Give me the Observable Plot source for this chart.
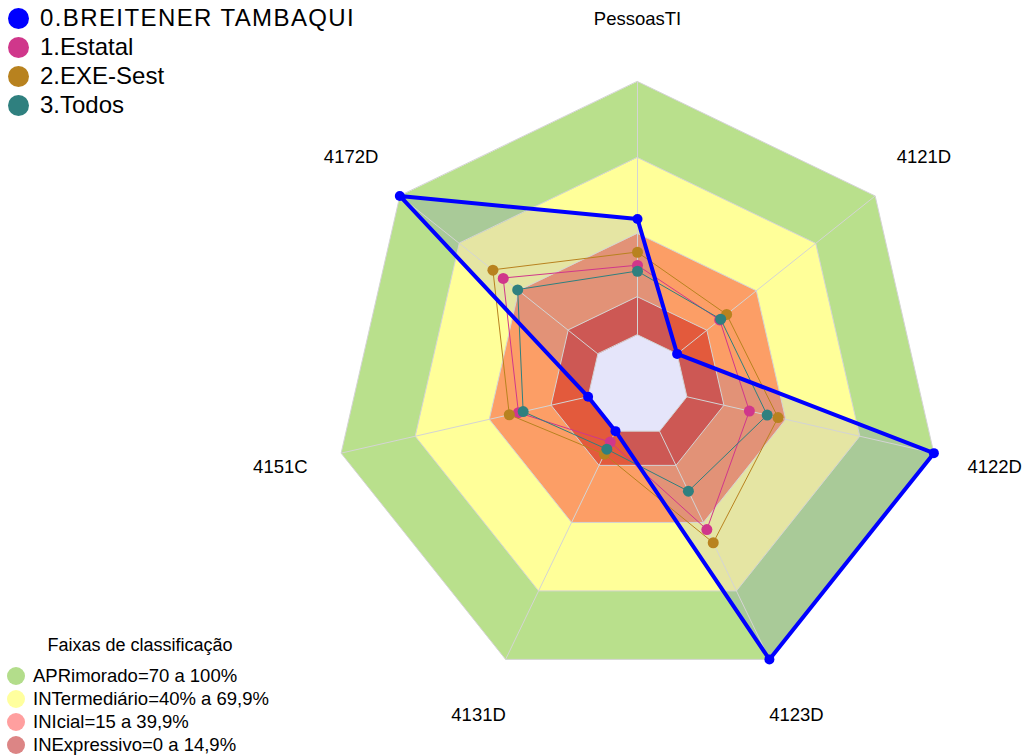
<!DOCTYPE html>
<html><head><meta charset="utf-8">
<script src="https://cdn.jsdelivr.net/npm/d3@7"></script>
<script src="https://cdn.jsdelivr.net/npm/@observablehq/plot@0.6"></script>
<style>
body{margin:0;background:#fff;font-family:"Liberation Sans",Arial,sans-serif;}
#wrap{position:relative;width:1023px;height:756px;overflow:hidden;}
#wrap svg{position:absolute;left:0;top:0;}
.row{position:absolute;display:flex;align-items:center;white-space:nowrap;color:#000;}
.dot{display:inline-block;border-radius:50%;flex:none;}
</style></head><body><div id="wrap"></div>
<script>
// ---- data ----
const axes = ["PessoasTI","4121D","4122D","4123D","4131D","4151C","4172D"];
const seriesNames = ["0.BREITENER TAMBAQUI","1.Estatal","2.EXE-Sest","3.Todos"];
const seriesColors = ["#0000ff","#d0378b","#b8821f","#2f807f"];
const breitener = [45.7, 0, 100, 100, 0, 0, 100];
const estatal   = [27.4, 21.5, 25.3, 43.1, 4.8, 28.2, 47.8];
const exeSest   = [32.6, 25.0, 36.9, 48.9, 10.1, 31.9, 53.0];
const todos     = [25.1, 22.0, 32.5, 26.3, 7.9, 26.3, 40.5];
const bandNames = ["APRimorado=70 a 100%","INTermediário=40% a 69,9%","INIcial=15 a 39,9%","INExpressivo=0 a 14,9%"];
const bandUpper = [100, 70, 40, 15];
const bandFill  = ["#b9e08c","#ffff99","#fc9e66","#e35a3c"];
const bandLegendColors = ["#b3dd8b","#ffff9e","#ff9f9f","#dc8585"];
const gridLevels = [0, 15, 40, 70, 100];
const legendTitle = "Faixas de classificação";

// ---- geometry ----
const R = 304;
const rScale = d3.scaleLinear().domain([0, 100]).range([R / 6, R]);
const n = axes.length;
const ang = i => i * 2 * Math.PI / n;
const pt = (i, v) => ({x: rScale(v) * Math.sin(ang(i)), y: -rScale(v) * Math.cos(ang(i))});
const ring = v => axes.map((a, i) => ({...pt(i, v), axis: a}));

const seriesVals = [breitener, estatal, exeSest, todos];
const seriesData = seriesVals.map((vals, s) => vals.map((v, i) => ({...pt(i, v), axis: axes[i], series: seriesNames[s], value: v})));

const marks = [];
// bands: filled heptagons largest first
bandUpper.forEach((u, b) => {
  marks.push(Plot.line(ring(u), {x: "x", y: "y", fill: bandFill[b], stroke: "none", curve: "linear-closed"}));
});
marks.push(Plot.line(ring(0), {x: "x", y: "y", fill: "#ffffff", stroke: "none", curve: "linear-closed"}));
// blue translucent fill
marks.push(Plot.line(seriesData[0], {x: "x", y: "y", fill: "rgb(80,80,220)", fillOpacity: 0.15, stroke: "none", curve: "linear-closed"}));
// grid
gridLevels.forEach(g => {
  marks.push(Plot.line(ring(g), {x: "x", y: "y", stroke: "#d4d4d4", strokeWidth: 1, curve: "linear-closed"}));
});
const spokes = axes.map((a, i) => { const p0 = pt(i, 0), p1 = pt(i, 100); return {x1: p0.x, y1: p0.y, x2: p1.x, y2: p1.y}; });
marks.push(Plot.link(spokes, {x1: "x1", y1: "y1", x2: "x2", y2: "y2", stroke: "#d4d4d4", strokeWidth: 1}));
// series (others first, blue on top)
[1, 2, 3, 0].forEach(s => {
  const blue = s === 0;
  marks.push(Plot.line(seriesData[s], {x: "x", y: "y", stroke: seriesColors[s], strokeWidth: blue ? 4 : 1, curve: "linear-closed"}));
  marks.push(Plot.dot(seriesData[s], {x: "x", y: "y", fill: seriesColors[s], r: blue ? 5 : 5.5}));
});
// axis labels
const labels = axes.map((a, i) => ({x: 1.205 * R * Math.sin(ang(i)), y: -1.205 * R * Math.cos(ang(i)), label: a}));
marks.push(Plot.text(labels, {x: "x", y: "y", text: "label", fontSize: 18.5, fill: "#000", textAnchor: "middle"}));

const cx = 637, cy = 385;
const chart = Plot.plot({
  width: 1023, height: 756, margin: 0,
  style: {background: "transparent", fontFamily: "Liberation Sans, Arial, sans-serif"},
  x: {domain: [-cx, 1023 - cx], range: [0, 1023], axis: null},
  y: {domain: [-cy, 756 - cy], range: [0, 756], axis: null},
  marks
});
const wrap = document.getElementById("wrap");
wrap.appendChild(chart);

// series legend (top-left)
seriesNames.forEach((name, s) => {
  const row = document.createElement("div");
  row.className = "row";
  row.style.left = "8px"; row.style.top = (18 + 29 * s - 15) + "px"; row.style.height = "30px";
  row.style.fontSize = "24px";
  if (s === 0) row.style.letterSpacing = "1.4px";
  row.innerHTML = `<span class="dot" style="width:21px;height:21px;background:${seriesColors[s]}"></span><span style="margin-left:11px">${name}</span>`;
  wrap.appendChild(row);
});
// band legend (bottom-left)
const title = document.createElement("div");
title.className = "row";
title.style.left = "0px"; title.style.width = "280px"; title.style.justifyContent = "center";
title.style.top = "634px"; title.style.height = "22px"; title.style.fontSize = "18px";
title.textContent = legendTitle;
wrap.appendChild(title);
bandNames.forEach((name, b) => {
  const row = document.createElement("div");
  row.className = "row";
  row.style.left = "7px"; row.style.top = (676 + 23 * b - 11) + "px"; row.style.height = "22px";
  row.style.fontSize = "18.5px";
  row.innerHTML = `<span class="dot" style="width:18px;height:18px;background:${bandLegendColors[b]}"></span><span style="margin-left:8px">${name}</span>`;
  wrap.appendChild(row);
});
</script></body></html>
